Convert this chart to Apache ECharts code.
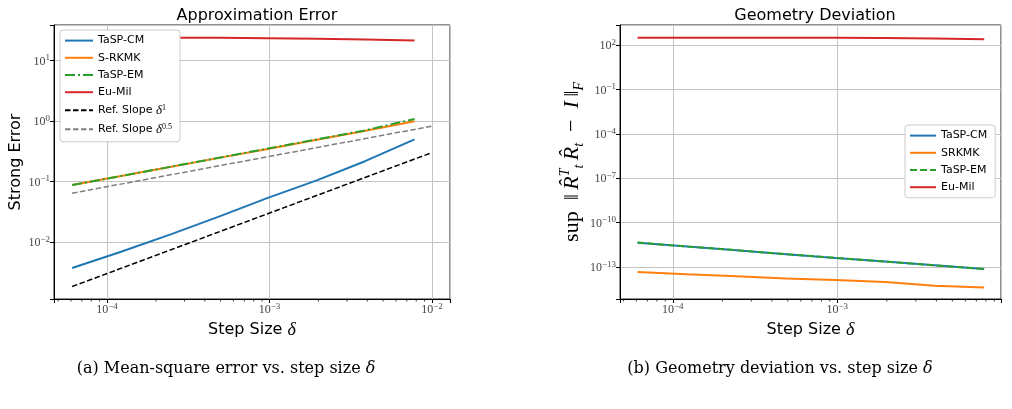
<!DOCTYPE html>
<html>
<head>
<meta charset="utf-8">
<script src="https://cdn.jsdelivr.net/npm/echarts@6/dist/echarts.min.js"></script>
<style>
  html, body { margin: 0; padding: 0; background: #fff; }
  #chart { width: 1012px; height: 409px; }
</style>
</head>
<body>
<div id="chart"></div>
<script>
// step sizes delta = 2^-14 ... 2^-7
const stepSizes = [6.1035e-5, 1.2207e-4, 2.4414e-4, 4.8828e-4, 9.7656e-4, 1.9531e-3, 3.9063e-3, 7.8125e-3];

// (a) strong error
const errTaspCM = [3.7e-3, 6.9e-3, 1.32e-2, 2.62e-2, 5.35e-2, 0.104, 0.218, 0.495];
const errSRKMK  = [0.087, 0.123, 0.173, 0.245, 0.345, 0.49, 0.69, 0.99];
const errTaspEM = [0.087, 0.123, 0.174, 0.246, 0.35, 0.495, 0.70, 1.08];
const errEuMil  = [23.8, 23.8, 23.7, 23.6, 23.3, 22.9, 22.2, 21.3];
const refSlope1X   = [6.1e-5, 1e-2];
const refSlope1Y   = [1.83e-3, 0.30];
const refSlope05X  = [6.1e-5, 1e-2];
const refSlope05Y  = [0.064, 0.82];

// (b) geometry deviation
const devTaspCM = [4.4e-12, 2.4e-12, 1.35e-12, 7.4e-13, 4.1e-13, 2.35e-13, 1.32e-13, 7.4e-14];
const devSRKMK  = [4.6e-14, 3.2e-14, 2.35e-14, 1.66e-14, 1.32e-14, 9.8e-15, 5.5e-15, 4.2e-15];
const devTaspEM = [4.5e-12, 2.4e-12, 1.35e-12, 7.3e-13, 4.1e-13, 2.3e-13, 1.3e-13, 7.3e-14];
const devEuMil  = [310, 310, 309, 308, 305, 295, 275, 245];

// matplotlib-style minor ticks on the x axes
const minorTicksA = [5e-5, 6e-5, 7e-5, 8e-5, 9e-5, 2e-4, 3e-4, 4e-4, 5e-4, 6e-4, 7e-4, 8e-4, 9e-4,
  2e-3, 3e-3, 4e-3, 5e-3, 6e-3, 7e-3, 8e-3, 9e-3];
const minorTicksB = [5e-5, 6e-5, 7e-5, 8e-5, 9e-5, 2e-4, 3e-4, 4e-4, 5e-4, 6e-4, 7e-4, 8e-4, 9e-4,
  2e-3, 3e-3, 4e-3, 5e-3, 6e-3, 7e-3, 8e-3, 9e-3];

const C_BLUE = '#1f77b4', C_ORANGE = '#ff7f0e', C_GREEN = '#2ca02c', C_RED = '#d62728';
const SANS = 'DejaVu Sans';
const SERIF = 'Liberation Serif';

const pair = (xs, ys) => xs.map((x, i) => [x, ys[i]]);

// "10^k" labels, shift moves the exponent (used for the offset tick axis)
function powLabel(shift) {
  return function (v) {
    const e = Math.log10(v);
    const r = Math.round(e);
    if (Math.abs(e - r) > 1e-6) return '';
    const k = r - shift;
    return '{b|10}{s|' + (k < 0 ? '\u2212' + (-k) : k) + '}';
  };
}
const powRich = {
  b: { fontFamily: SERIF, fontSize: 12, color: '#444', lineHeight: 14, verticalAlign: 'bottom' },
  s: { fontFamily: SERIF, fontSize: 9, color: '#444', lineHeight: 8, verticalAlign: 'top' }
};

const gridLine = { show: true, lineStyle: { color: '#c4c4c4', width: 1 } };
const tick = { show: true, length: 4, lineStyle: { color: '#000' } };

function xAxisFor(gridIndex, min, max) {
  return {
    type: 'log', gridIndex, min, max,
    name: '{a|Step Size }{d|\u03b4}', nameLocation: 'middle', nameGap: 16,
    nameTextStyle: {
      rich: {
        a: { fontFamily: SANS, fontSize: 16, color: '#000' },
        d: { fontFamily: SERIF, fontSize: 18, fontStyle: 'italic', color: '#000' }
      }
    },
    axisLine: { show: true, onZero: false, lineStyle: { color: '#000' } },
    axisTick: tick,
    splitLine: gridLine,
    axisLabel: { formatter: powLabel(0), rich: powRich, margin: 3 }
  };
}

function minorTickSeries(xAxisIndex, yAxisIndex, ticks) {
  return {
    type: 'custom', xAxisIndex, yAxisIndex, silent: true, clip: false,
    data: ticks.map(v => [v, 1]),
    renderItem(params, api) {
      const x = api.coord([api.value(0), 1])[0];
      const cs = params.coordSys;
      const y0 = cs.y + cs.height;
      return {
        type: 'line',
        shape: { x1: x, y1: y0, x2: x, y2: y0 + 2.5 },
        style: { stroke: '#000', lineWidth: 0.8 }
      };
    }
  };
}

function line(name, xAxisIndex, yAxisIndex, data, color, width, type) {
  return {
    name, type: 'line', xAxisIndex, yAxisIndex, data,
    symbol: 'none', showSymbol: false, animation: false,
    lineStyle: { color, width, type: type || 'solid' },
    itemStyle: { color }
  };
}

const legendRich = {
  i: { fontFamily: SERIF, fontStyle: 'italic', fontSize: 13, color: '#000' },
  s: { fontFamily: SERIF, fontSize: 8, color: '#000', verticalAlign: 'top', lineHeight: 8 }
};

const chart = echarts.init(document.getElementById('chart'), null, { renderer: 'canvas' });

const option = {
  animation: false,
  backgroundColor: '#fff',
  title: [
    { text: 'Approximation Error', left: 252, top: 3, textAlign: 'center',
      textStyle: { fontFamily: SANS, fontSize: 16, fontWeight: 'normal', color: '#000' } },
    { text: 'Geometry Deviation', left: 810, top: 3, textAlign: 'center',
      textStyle: { fontFamily: SANS, fontSize: 16, fontWeight: 'normal', color: '#000' } }
  ],
  grid: [
    { left: 54, top: 25, width: 396, height: 274, show: true, borderColor: '#222', borderWidth: 1 },
    { left: 620, top: 25, width: 381, height: 274, show: true, borderColor: '#222', borderWidth: 1 }
  ],
  legend: [
    {
      orient: 'vertical', left: 60, top: 30,
      data: ['TaSP-CM', 'S-RKMK', 'TaSP-EM', 'Eu-Mil', 'Ref. Slope δ^1', 'Ref. Slope δ^0.5'],
      itemWidth: 28, itemHeight: 14, itemGap: 6,
      itemStyle: { opacity: 0 },
      padding: [5, 8, 6, 4],
      backgroundColor: '#fff', borderColor: '#ccc', borderWidth: 1, borderRadius: 3,
      formatter: n => n.replace(/δ\^(.+)$/, '{i|δ}{s|$1}'),
      textStyle: { fontFamily: SANS, fontSize: 11, color: '#000', rich: legendRich }
    },
    {
      orient: 'vertical', left: 905, top: 125,
      data: [
        { name: 'TaSP-CM' }, { name: 'SRKMK' },
        { name: 'TaSP-EM', lineStyle: { type: [7, 3] } },
        { name: 'Eu-Mil' }
      ],
      itemWidth: 26, itemHeight: 14, itemGap: 6,
      itemStyle: { opacity: 0 },
      padding: [5, 8, 5, 4],
      backgroundColor: '#fff', borderColor: '#ccc', borderWidth: 1, borderRadius: 3,
      textStyle: { fontFamily: SANS, fontSize: 11, color: '#000' }
    }
  ],
  xAxis: [
    xAxisFor(0, 4.72e-5, 1.291e-2),
    xAxisFor(1, 4.775e-5, 9.886e-3)
  ],
  yAxis: [
    {
      type: 'log', gridIndex: 0, min: 1.14e-3, max: 38.5,
      name: 'Strong Error', nameLocation: 'middle', nameGap: 30,
      nameTextStyle: { fontFamily: SANS, fontSize: 16, color: '#000' },
      axisLine: { show: true, lineStyle: { color: '#000' } },
      axisTick: tick, splitLine: gridLine,
      axisLabel: { formatter: powLabel(0), rich: powRich, margin: 4 }
    },
    {
      // data axis of plot (b); its ticks are drawn by the axis below
      type: 'log', gridIndex: 1, position: 'left', min: 6.9e-16, max: 2239,
      axisLine: { show: true, lineStyle: { color: '#000' } },
      axisTick: { show: false }, splitLine: { show: false }, axisLabel: { show: false }
    },
    {
      // tick axis for plot (b): same span shifted one decade, base 1000,
      // so ticks land on 10^2, 10^-1, ..., 10^-13
      type: 'log', logBase: 1000, gridIndex: 1, position: 'left', offset: 0,
      min: 6.9e-15, max: 22390,
      name: '{m|sup\u2002}{n|\u2016\u2009}{i|R\u0302}{sp|T}{sb|t}{i|\u2009R\u0302}{sb|t}{m|\u2002\u2212\u2002}{i|I}{n|\u2009\u2016}{sb|F}',
      nameLocation: 'middle', nameGap: 34,
      nameTextStyle: {
        rich: {
          m: { fontFamily: SERIF, fontSize: 22, color: '#000', lineHeight: 28 },
          n: { fontFamily: SERIF, fontSize: 22, color: '#000', lineHeight: 28 },
          i: { fontFamily: SERIF, fontSize: 22, fontStyle: 'italic', color: '#000', lineHeight: 28 },
          sp: { fontFamily: SERIF, fontSize: 14, fontStyle: 'italic', color: '#000', lineHeight: 12, verticalAlign: 'top' },
          sb: { fontFamily: SERIF, fontSize: 14, fontStyle: 'italic', color: '#000', lineHeight: 12, verticalAlign: 'bottom' }
        }
      },
      axisLine: { show: false },
      axisTick: tick, splitLine: gridLine,
      axisLabel: { formatter: powLabel(1), rich: powRich, margin: 4 }
    }
  ],
  graphic: [
    { type: 'text', x: 226, y: 369,
      style: { text: '(a) Mean-square error vs. step size {d|\u03b4}', align: 'center', verticalAlign: 'middle',
        fontFamily: 'DejaVu Serif', fontSize: 16, fill: '#000',
        rich: { d: { fontFamily: 'DejaVu Serif', fontSize: 16, fontStyle: 'italic', fill: '#000' } } } },
    { type: 'text', x: 780, y: 369,
      style: { text: '(b) Geometry deviation vs. step size {d|\u03b4}', align: 'center', verticalAlign: 'middle',
        fontFamily: 'DejaVu Serif', fontSize: 16, fill: '#000',
        rich: { d: { fontFamily: 'DejaVu Serif', fontSize: 16, fontStyle: 'italic', fill: '#000' } } } }
  ],
  series: [
    minorTickSeries(0, 0, minorTicksA),
    minorTickSeries(1, 1, minorTicksB),

    line('TaSP-CM', 0, 0, pair(stepSizes, errTaspCM), C_BLUE, 2),
    line('S-RKMK', 0, 0, pair(stepSizes, errSRKMK), C_ORANGE, 2),
    line('TaSP-EM', 0, 0, pair(stepSizes, errTaspEM), C_GREEN, 2, [10, 3, 2, 3]),
    line('Eu-Mil', 0, 0, pair(stepSizes, errEuMil), C_RED, 2),
    line('Ref. Slope δ^1', 0, 0, pair(refSlope1X, refSlope1Y), '#000', 1.5, [5.5, 2.5]),
    line('Ref. Slope δ^0.5', 0, 0, pair(refSlope05X, refSlope05Y), '#7f7f7f', 1.5, [5.5, 2.5]),

    line('TaSP-CM', 1, 1, pair(stepSizes, devTaspCM), C_BLUE, 2),
    line('SRKMK', 1, 1, pair(stepSizes, devSRKMK), C_ORANGE, 2),
    line('TaSP-EM', 1, 1, pair(stepSizes, devTaspEM), C_GREEN, 2, [7, 3]),
    line('Eu-Mil', 1, 1, pair(stepSizes, devEuMil), C_RED, 2)
  ]
};

chart.setOption(option);
</script>
</body>
</html>
